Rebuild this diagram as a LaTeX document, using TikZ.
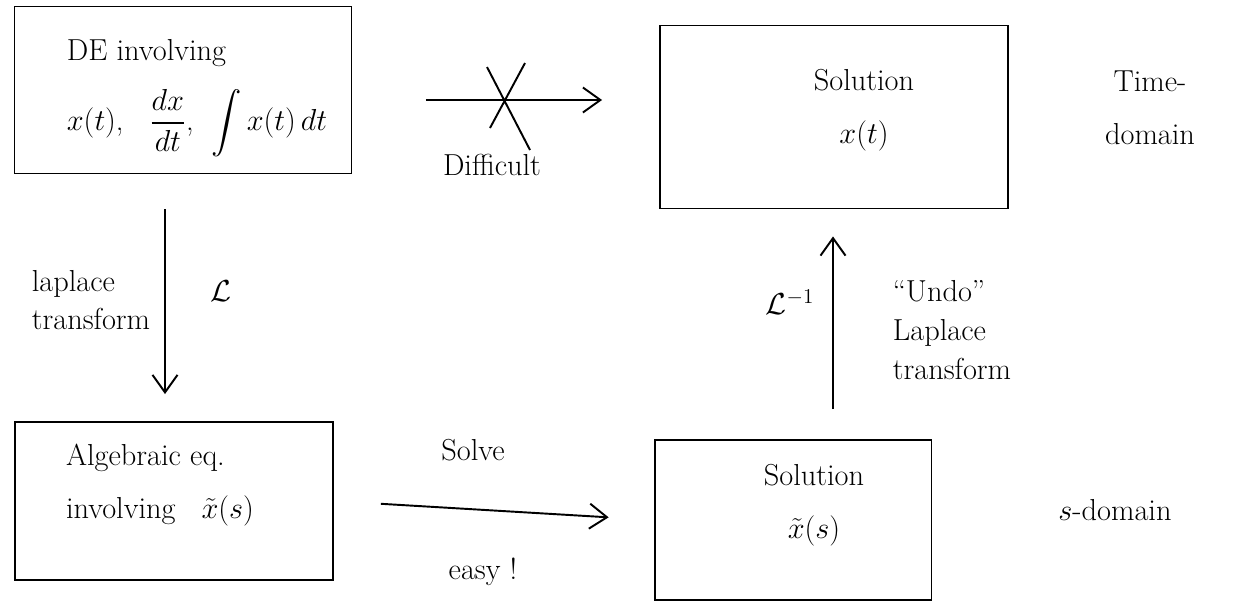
\documentclass[tikz,border=0pt]{standalone}
\usepackage{fontspec}
\usepackage{amsmath}
\usetikzlibrary{arrows.meta}
\begin{document}
\begin{tikzpicture}[x=0.02cm,y=-0.02cm,
        box/.style={draw,line width=1.1pt,inner sep=0pt},
        arr/.style={-{Straight Barb[length=3.5mm,width=5mm]},line width=1.1pt},
        txt/.style={font=\fontsize{17.28}{30}\selectfont,inner sep=1pt},
        side/.style={font=\fontsize{17.28}{22}\selectfont,inner sep=1pt}]
    \useasboundingbox (0,0) rectangle (1244,613);
    \node[box,minimum width=6.74cm,minimum height=3.34cm] (de) at (183,90) {};
    \node[box,minimum width=6.96cm,minimum height=3.66cm] (solt) at (834,117) {};
    \node[box,minimum width=6.36cm,minimum height=3.16cm] (alg) at (174,501) {};
    \node[box,minimum width=5.54cm,minimum height=3.2cm] (sols) at (793,520) {};
    \node[txt,align=left] (deText) at (197,98) {DE involving\\[10pt] $x(t)$,\;\; $\dfrac{dx}{dt}$,\; $\displaystyle\int x(t)\,dt$};
    \node[txt,align=center] (soltText) at (864,110) {Solution\\ $x(t)$};
    \node[txt,align=left] (algText) at (160,485) {Algebraic eq.\\ involving\;\; $\tilde{x}(s)$};
    \node[txt,align=center] (solsText) at (814,505) {Solution\\ $\tilde{x}(s)$};
    \coordinate (topRow) at (0,100);
    \coordinate (lapCol) at (165,0);
    \coordinate (invCol) at (833,0);
    \draw[arr,shorten <=1.47cm,shorten >=1.14cm] (de.east |- topRow) -- (solt.west |- topRow);
    \draw[line width=1.1pt] (487,67) -- (530,150) (525,63) -- (490,128);
    \node[txt] (hard) at (492,165) {Difficult};
    \draw[arr,shorten <=0.7cm,shorten >=0.54cm] (de.south -| lapCol) -- (alg.north -| lapCol);
    \node[side,align=left] (lapText) at (91,300) {laplace\\ transform};
    \node[txt] (lapSym) at (221,291) {$\mathcal{L}$};
    \draw[arr,shorten <=0.94cm,shorten >=0.9cm] (alg.east) -- (sols.west);
    \node[txt] (solve) at (473,450) {Solve};
    \node[txt] (easy) at (483,572) {easy !};
    \draw[arr,shorten <=0.6cm,shorten >=0.54cm] (sols.north -| invCol) -- (solt.south -| invCol);
    \node[txt] (invSym) at (790,302) {$\mathcal{L}^{-1}$};
    \node[side,align=left] (undo) at (952,330) {``Undo''\\ Laplace\\ transform};
    \node[txt,align=center] (timeDom) at (1150,108) {Time-\\ domain};
    \node[txt] (sDom) at (1115,510) {$s$-domain};
\end{tikzpicture}
\end{document}
